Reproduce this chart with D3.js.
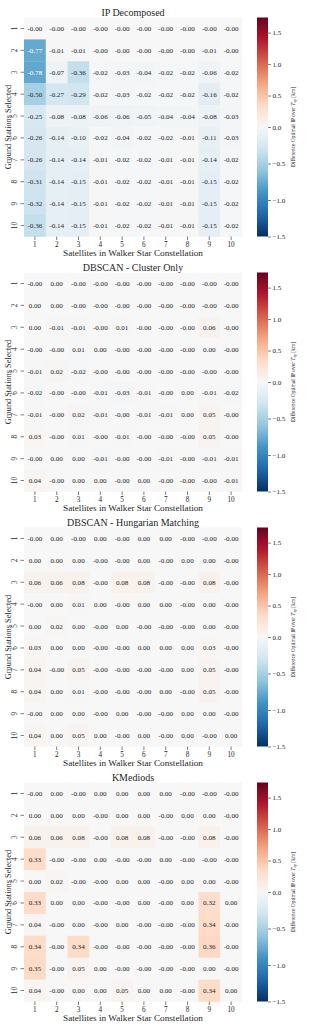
<!DOCTYPE html>
<html>
<head>
<meta charset="utf-8">
<script src="https://cdn.jsdelivr.net/npm/d3@7"></script>
<style>
  body { margin: 0; background: #fff; }
  svg text { font-family: "Liberation Serif", "DejaVu Serif", serif; fill: #262626; }
</style>
</head>
<body>
<svg id="chart"></svg>
<script>
// values; -0.001 / 0.001 stand for the printed "-0.00" / "0.00"
let satellites = [1, 2, 3, 4, 5, 6, 7, 8, 9, 10]
let stations = [1, 2, 3, 4, 5, 6, 7, 8, 9, 10]
let titles = ['IP Decomposed', 'DBSCAN - Cluster Only', 'DBSCAN - Hungarian Matching', 'KMediods']
let cbarTicks = [-1.5, -1.0, -0.5, 0.0, 0.5, 1.0, 1.5]

let ipDecomposed = [
  [-0.001, -0.001, -0.001, -0.001, -0.001, -0.001, -0.001, -0.001, -0.001, -0.001],
  [-0.77, -0.01, -0.01, -0.001, -0.001, -0.001, -0.001, -0.001, -0.01, -0.001],
  [-0.78, -0.07, -0.36, -0.02, -0.03, -0.04, -0.02, -0.02, -0.06, -0.02],
  [-0.50, -0.27, -0.29, -0.02, -0.03, -0.02, -0.02, -0.02, -0.16, -0.02],
  [-0.25, -0.08, -0.08, -0.06, -0.06, -0.05, -0.04, -0.04, -0.08, -0.03],
  [-0.26, -0.14, -0.10, -0.02, -0.04, -0.02, -0.02, -0.01, -0.11, -0.03],
  [-0.26, -0.14, -0.14, -0.01, -0.02, -0.02, -0.01, -0.01, -0.14, -0.02],
  [-0.31, -0.14, -0.15, -0.01, -0.02, -0.02, -0.01, -0.01, -0.15, -0.02],
  [-0.32, -0.14, -0.15, -0.01, -0.02, -0.02, -0.01, -0.01, -0.15, -0.02],
  [-0.36, -0.14, -0.15, -0.01, -0.02, -0.02, -0.01, -0.01, -0.15, -0.02]
]

let dbscanCluster = [
  [-0.001, 0.001, -0.001, -0.001, -0.001, -0.001, -0.001, -0.001, -0.001, -0.001],
  [0.001, 0.001, -0.001, -0.001, -0.001, -0.001, -0.001, -0.001, -0.001, -0.001],
  [0.001, -0.01, -0.01, -0.001, 0.01, -0.001, -0.001, -0.001, 0.06, -0.001],
  [-0.001, -0.001, 0.01, 0.001, -0.001, -0.001, -0.001, -0.001, 0.001, -0.001],
  [-0.01, 0.02, -0.02, -0.001, -0.001, -0.001, -0.001, -0.001, -0.001, -0.001],
  [-0.02, -0.001, -0.001, -0.01, -0.03, -0.01, -0.001, 0.001, -0.01, -0.02],
  [-0.01, -0.001, 0.02, -0.01, -0.001, -0.01, -0.01, 0.001, 0.05, -0.001],
  [0.03, -0.001, 0.01, -0.001, -0.01, -0.001, -0.001, -0.001, 0.05, -0.001],
  [-0.001, 0.001, 0.001, -0.01, -0.001, -0.001, -0.01, -0.001, -0.01, -0.01],
  [0.04, -0.001, 0.001, 0.001, -0.001, 0.001, -0.001, -0.001, -0.001, -0.01]
]

let dbscanHungarian = [
  [-0.001, 0.001, -0.001, 0.001, -0.001, 0.001, 0.001, -0.001, -0.001, -0.001],
  [0.001, 0.001, 0.001, -0.001, -0.001, 0.001, -0.001, 0.001, 0.001, -0.001],
  [0.06, 0.06, 0.08, -0.001, 0.08, 0.08, -0.001, -0.001, 0.08, -0.001],
  [-0.001, 0.001, 0.01, 0.001, -0.001, 0.001, 0.001, -0.001, 0.001, -0.001],
  [0.001, 0.02, 0.001, -0.001, 0.001, -0.001, -0.001, -0.001, 0.001, -0.001],
  [0.03, 0.001, 0.001, -0.001, -0.001, 0.001, 0.001, 0.001, 0.03, -0.001],
  [0.04, -0.001, 0.05, -0.001, -0.001, -0.001, -0.001, 0.001, 0.05, -0.001],
  [0.04, 0.001, 0.01, -0.001, -0.001, -0.001, 0.001, -0.001, 0.05, -0.001],
  [-0.001, 0.001, 0.001, -0.001, 0.001, -0.001, -0.001, 0.001, 0.001, -0.001],
  [0.04, 0.001, 0.05, 0.001, -0.001, 0.001, -0.001, 0.001, -0.001, 0.001]
]

let kMediods = [
  [-0.001, 0.001, -0.001, 0.001, 0.001, 0.001, 0.001, -0.001, -0.001, -0.001],
  [0.001, 0.001, 0.001, -0.001, 0.001, 0.001, -0.001, 0.001, 0.001, -0.001],
  [0.06, 0.06, 0.08, -0.001, 0.08, 0.08, -0.001, -0.001, 0.08, -0.001],
  [0.33, -0.001, -0.001, 0.001, -0.001, -0.001, 0.001, -0.001, -0.001, -0.001],
  [0.001, 0.02, -0.001, -0.001, 0.001, 0.001, -0.001, 0.001, 0.001, -0.001],
  [0.33, 0.001, 0.001, -0.001, -0.001, 0.001, -0.001, 0.001, 0.32, 0.001],
  [0.04, -0.001, 0.001, -0.001, 0.001, -0.001, -0.001, -0.001, 0.34, -0.001],
  [0.34, -0.001, 0.34, -0.001, -0.001, -0.001, -0.001, -0.001, 0.36, -0.001],
  [0.35, -0.001, 0.05, 0.001, -0.001, -0.001, -0.001, -0.001, 0.001, -0.001],
  [0.04, -0.001, 0.001, 0.001, 0.05, 0.001, 0.001, -0.001, 0.34, 0.001]
]

let panels = [ipDecomposed, dbscanCluster, dbscanHungarian, kMediods]

let width = 310
let height = 1032
let panelStep = 255
let vmin = -1.5
let vmax = 1.74

let svg = d3.select('#chart').attr('width', width).attr('height', height)

// RdBu_r, matplotlib style (linear between the brewer colours), two-slope norm around 0
let rdbu = ['#053061', '#2166ac', '#4393c3', '#92c5de', '#d1e5f0', '#f7f7f7',
            '#fddbc7', '#f4a582', '#d6604d', '#b2182b', '#67001f']
let cmap = d3.scaleLinear().domain(d3.range(11).map(i => i / 10)).range(rdbu).interpolate(d3.interpolateRgb)
let norm = d3.scaleLinear().domain([vmin, 0, vmax]).range([0, 0.5, 1]).clamp(true)
let color = v => cmap(norm(v))

let luminance = c => {
  let rgb = d3.rgb(c)
  let lin = x => { x = x / 255; return x <= 0.03928 ? x / 12.92 : Math.pow((x + 0.055) / 1.055, 2.4) }
  return 0.2126 * lin(rgb.r) + 0.7152 * lin(rgb.g) + 0.0722 * lin(rgb.b)
}

let xScale = d3.scaleBand().domain(satellites).range([24, 242])
let yScale = d3.scaleBand().domain(stations).range([17.5, 236.5])
let cbarScale = d3.scaleLinear().domain([vmin, 0, vmax]).range([236.5, 127, 17.5])

// gradient for the colorbars
let defs = svg.append('defs')
let grad = defs.append('linearGradient').attr('id', 'cbar')
  .attr('x1', 0).attr('y1', 1).attr('x2', 0).attr('y2', 0)
d3.range(0, 1.0001, 0.02).forEach(t => {
  let v = norm.invert(t)
  grad.append('stop').attr('offset', (cbarScale(v) - 236.5) / (17.5 - 236.5)).attr('stop-color', cmap(t))
})

let drawPanel = (values, k) => {
  let g = svg.append('g').attr('transform', 'translate(0,' + (k * panelStep) + ')')

  let cells = []
  values.forEach((row, i) => row.forEach((v, j) => cells.push({ row: stations[i], col: satellites[j], v: v })))

  g.selectAll('rect.cell')
   .data(cells)
   .enter()
   .append('rect')
   .attr('class', 'cell')
   .attr('x', d => xScale(d.col))
   .attr('y', d => yScale(d.row))
   .attr('width', xScale.bandwidth() + 0.3)
   .attr('height', yScale.bandwidth() + 0.3)
   .attr('fill', d => color(d.v))

  g.selectAll('text.annot')
   .data(cells)
   .enter()
   .append('text')
   .attr('class', 'annot')
   .attr('x', d => xScale(d.col) + xScale.bandwidth() / 2)
   .attr('y', d => yScale(d.row) + yScale.bandwidth() / 2)
   .attr('dy', '0.35em')
   .attr('text-anchor', 'middle')
   .style('font-size', '7.1px')
   .style('fill', d => luminance(color(d.v)) > 0.408 ? '#262626' : '#ffffff')
   .text(d => d.v.toFixed(2))

  // axes
  let xAxis = d3.axisBottom(xScale).tickSize(3.5).tickPadding(2)
  let xg = g.append('g').attr('transform', 'translate(0,236.5)').call(xAxis)
  xg.select('.domain').remove()
  xg.selectAll('line').attr('stroke', '#262626').attr('stroke-width', 0.6)
  xg.selectAll('text').style('font-size', '7.2px').attr('fill', null)

  let yAxis = d3.axisLeft(yScale).tickSize(3.5)
  let yg = g.append('g').attr('transform', 'translate(24,0)').call(yAxis)
  yg.select('.domain').remove()
  yg.selectAll('line').attr('stroke', '#262626').attr('stroke-width', 0.6)
  yg.selectAll('text')
    .attr('x', 0).attr('dy', null).attr('y', 0)
    .attr('text-anchor', 'middle')
    .attr('transform', 'translate(-6.8,0) rotate(-90)')
    .style('font-size', '7.2px').attr('fill', null)

  g.append('text')
   .attr('x', 133).attr('y', 15.5)
   .attr('text-anchor', 'middle')
   .style('font-size', '10px')
   .text(titles[k])

  g.append('text')
   .attr('x', 133).attr('y', 256)
   .attr('text-anchor', 'middle')
   .style('font-size', '9.2px')
   .text('Satellites in Walker Star Constellation')

  g.append('text')
   .attr('transform', 'translate(10.5,127) rotate(-90)')
   .attr('text-anchor', 'middle')
   .style('font-size', '8.3px')
   .text('Ground Stations Selected')

  // colorbar
  g.append('rect')
   .attr('x', 257).attr('y', 17.5)
   .attr('width', 11).attr('height', 219)
   .attr('fill', 'url(#cbar)')

  let cAxis = d3.axisRight(cbarScale).tickValues(cbarTicks).tickFormat(d3.format('.1f')).tickSize(3).tickPadding(1.5)
  let cg = g.append('g').attr('transform', 'translate(268,0)').call(cAxis)
  cg.select('.domain').remove()
  cg.selectAll('line').attr('stroke', '#262626').attr('stroke-width', 0.6)
  cg.selectAll('text').style('font-size', '7px').attr('fill', null)

  let lab = g.append('text')
   .attr('transform', 'translate(295,127) rotate(-90)')
   .attr('text-anchor', 'middle')
   .style('font-size', '5.5px')
  lab.append('tspan').text('Difference Optimal IP over ')
  lab.append('tspan').style('font-style', 'italic').text('T')
  lab.append('tspan').style('font-style', 'italic').style('font-size', '4px').attr('dy', 1).text('sp')
  lab.append('tspan').attr('dy', -1).text(' [km]')
}

panels.forEach((values, k) => drawPanel(values, k))
</script>
</body>
</html>
